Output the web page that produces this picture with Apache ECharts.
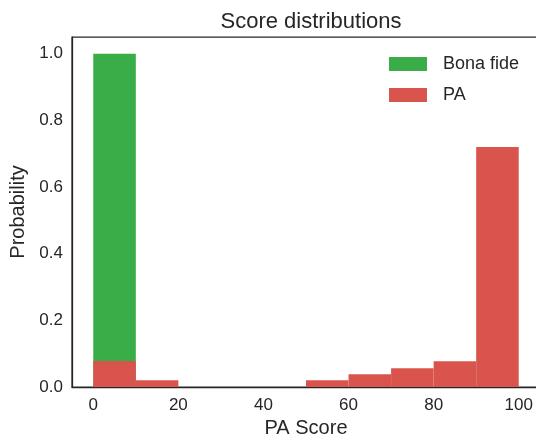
<!DOCTYPE html>
<html>
<head>
<meta charset="utf-8">
<script src="https://cdn.jsdelivr.net/npm/echarts@6/dist/echarts.min.js"></script>
<style>
html,body{margin:0;padding:0;background:#fff;}
#chart{width:536px;height:435px;}
</style>
</head>
<body>
<div id="chart"></div>
<script>
// Histogram bins (left edges), width 10
var binStarts = [0, 10, 20, 30, 40, 50, 60, 70, 80, 90];
var binWidth = 10;
var bonaFide = [1.0, 0, 0, 0, 0, 0, 0, 0, 0, 0];
var pa = [0.078, 0.02, 0, 0, 0, 0.02, 0.038, 0.056, 0.077, 0.72];
var xTicks = [0, 20, 40, 60, 80, 100];
var yTicks = [0, 0.2, 0.4, 0.6, 0.8, 1.0];
var seriesNames = ['Bona fide', 'PA'];
var colors = ['#39ad48', '#d9544d'];

function toData(vals) {
  return binStarts.map(function (s, i) { return [s, s + binWidth, vals[i]]; });
}
function renderBin(params, api) {
  var v = api.value(2);
  if (!v) return null;
  var p0 = api.coord([api.value(0), 0]);
  var p1 = api.coord([api.value(1), v]);
  return {
    type: 'rect',
    shape: { x: p0[0], y: p1[1], width: p1[0] - p0[0], height: p0[1] - p1[1] },
    style: { fill: api.visual('color') }
  };
}

var txt = '#262626';
var font = 'Liberation Sans, Arial, sans-serif';
var chart = echarts.init(document.getElementById('chart'), null, { renderer: 'canvas' });
chart.setOption({
  animation: false,
  backgroundColor: '#fff',
  color: colors,
  title: {
    text: 'Score distributions',
    left: 306, top: 6, textAlign: 'center',
    textStyle: { fontFamily: font, fontSize: 22, fontWeight: 'normal', color: txt }
  },
  legend: {
    orient: 'vertical', left: 389, top: 55, padding: 0,
    itemWidth: 38, itemHeight: 14, itemGap: 13,
    icon: 'rect',
    data: seriesNames,
    textStyle: { fontFamily: font, fontSize: 18, color: txt, lineHeight: 14, padding: [0, 0, 0, 11] }
  },
  grid: { left: 72, right: -4, top: 37, bottom: 48, containLabel: false, outerBoundsMode: 'none',
    show: true, borderColor: txt, borderWidth: 1.25, backgroundColor: 'transparent' },
  xAxis: {
    type: 'value', min: -5, max: 105,
    name: 'PA Score', nameLocation: 'middle', nameGap: 29,
    nameTextStyle: { fontFamily: font, fontSize: 20, color: txt },
    axisLine: { show: true, onZero: false, lineStyle: { color: txt, width: 1.25 } },
    axisTick: { show: false },
    splitLine: { show: false },
    axisLabel: { customValues: xTicks, fontFamily: font, fontSize: 17, color: txt, margin: 10 }
  },
  yAxis: {
    type: 'value', min: 0, max: 1.05,
    name: 'Probability', nameLocation: 'middle', nameGap: 38,
    nameTextStyle: { fontFamily: font, fontSize: 20, color: txt },
    axisLine: { show: true, onZero: false, lineStyle: { color: txt, width: 1.25 } },
    axisTick: { show: false },
    splitLine: { show: false },
    axisLabel: { customValues: yTicks, fontFamily: font, fontSize: 17, color: txt, margin: 9,
      formatter: function (v) { return v.toFixed(1); } }
  },
  series: [
    { name: seriesNames[0], type: 'custom', renderItem: renderBin, data: toData(bonaFide), encode: { x: [0, 1], y: 2 } },
    { name: seriesNames[1], type: 'custom', renderItem: renderBin, data: toData(pa), encode: { x: [0, 1], y: 2 } }
  ]
});
</script>
</body>
</html>
